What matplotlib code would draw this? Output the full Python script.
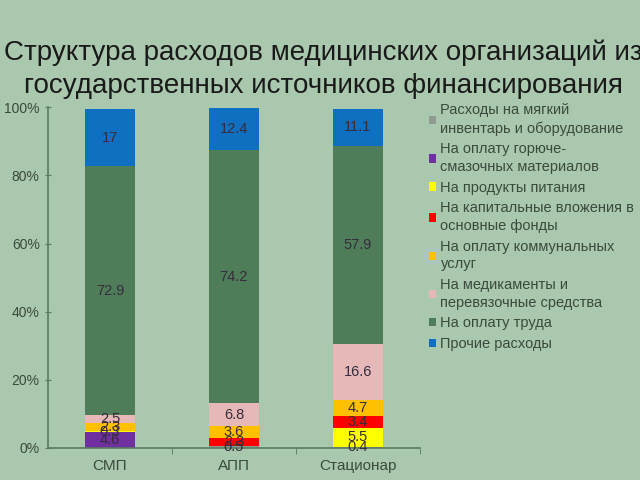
import matplotlib.pyplot as plt
import numpy as np

# data (bottom -> top of the stack)
categories = ['СМП', 'АПП', 'Стационар']
series_names = [
    'Расходы на мягкий\nинвентарь и оборудование',
    'На оплату горюче-\nсмазочных материалов',
    'На продукты питания',
    'На капитальные вложения в\nосновные фонды',
    'На оплату коммунальных\nуслуг',
    'На медикаменты и\nперевязочные средства',
    'На оплату труда',
    'Прочие расходы',
]
soft_inv = [0, 0.5, 0.4]
fuel = [4.6, 0, 0]
food = [0.3, 0, 5.5]
capital = [0, 2.3, 3.4]
utilities = [2.3, 3.6, 4.7]
medicines = [2.5, 6.8, 16.6]
salary = [72.9, 74.2, 57.9]
other = [17, 12.4, 11.1]

values = [soft_inv, fuel, food, capital, utilities, medicines, salary, other]
colors = ['#8c9c8e', '#7030a0', '#ffff00', '#ff0000', '#ffc000',
          '#e6b9b8', '#4f7d59', '#0f6fc0']

bg = '#a9c8ae'
plt.rcParams['font.family'] = ['Liberation Sans', 'DejaVu Sans']

fig = plt.figure(figsize=(6.4, 4.8), dpi=100, facecolor=bg)
ax = fig.add_axes([0.075, 0.0667, 0.581, 0.71])
ax.set_facecolor(bg)

x = np.arange(len(categories))
bottom = np.zeros(len(categories))
for name, vals, col in zip(series_names, values, colors):
    vals = np.array(vals, dtype=float)
    ax.bar(x, vals, 0.4, bottom=bottom, color=col, label=name)
    for xi, b, v in zip(x, bottom, vals):
        if v > 0:
            ax.text(xi, b + v / 2, f'{v:g}', ha='center', va='center',
                    fontsize=10.5, color='#352c3c')
    bottom += vals

ax.set_xlim(-0.5, 2.5)
ax.set_ylim(0, 100)
ax.set_yticks([0, 20, 40, 60, 80, 100])
ax.set_yticklabels(['0%', '20%', '40%', '60%', '80%', '100%'])
ax.set_xticks(x)
ax.set_xticklabels(categories)
ax.set_xticks([0.5, 1.5, 2.5], minor=True)
ax.tick_params(axis='x', which='major', length=0, labelsize=11,
               colors='#3a4a3c', pad=8)
ax.tick_params(axis='x', which='minor', length=4, color='#5a7a60')
ax.tick_params(axis='y', length=5, direction='inout', labelsize=10,
               colors='#3a4a3c')
ax.tick_params(axis='y', color='#5a7a60')
for s in ['top', 'right']:
    ax.spines[s].set_visible(False)
for s in ['left', 'bottom']:
    ax.spines[s].set_color('#5a7a60')
    ax.spines[s].set_linewidth(1.2)

leg = fig.legend(loc='upper left', bbox_to_anchor=(0.67, 0.785),
                 frameon=False, fontsize=10.5, handlelength=0.5,
                 handleheight=0.5, handletextpad=0.3, labelspacing=0.45,
                 labelcolor='#3a4a3c', borderaxespad=0, borderpad=0)
for t in leg.get_texts():
    t.set_linespacing(1.35)

fig.text(0.505, 0.855, 'Структура расходов медицинских организаций из\n'
         'государственных источников финансирования',
         ha='center', va='center', fontsize=20, color='#1a1a1a',
         linespacing=1.35)

fig.savefig('out.png', dpi=100, facecolor=bg)
